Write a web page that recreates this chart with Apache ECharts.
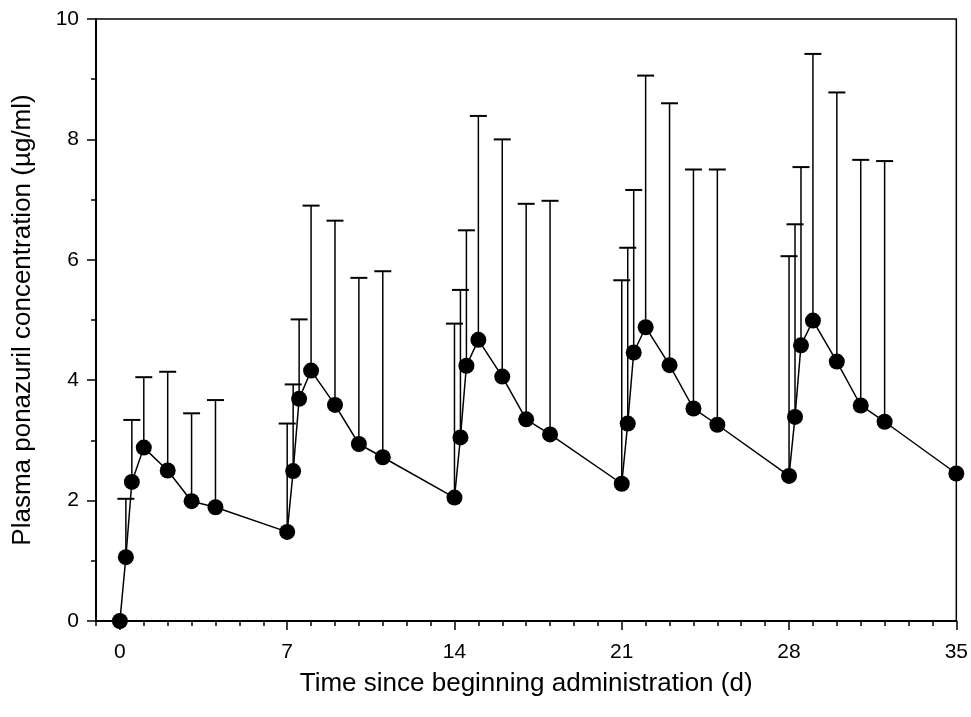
<!DOCTYPE html>
<html>
<head>
<meta charset="utf-8">
<script src="https://cdn.jsdelivr.net/npm/echarts@6.0.0/dist/echarts.min.js"></script>
<style>
  html, body { margin: 0; padding: 0; background: #fff; }
  #chart { width: 971px; height: 717px; }
</style>
</head>
<body>
<div id="chart"></div>
<script>
  // sampling times (days) and mean plasma concentrations (µg/ml)
  const times = [
    0, 0.25, 0.5, 1, 2, 3, 4,
    7, 7.25, 7.5, 8, 9, 10, 11,
    14, 14.25, 14.5, 15, 16, 17, 18,
    21, 21.25, 21.5, 22, 23, 24, 25,
    28, 28.25, 28.5, 29, 30, 31, 32,
    35
  ];
  const means = [
    0, 1.06, 2.31, 2.88, 2.50, 1.99, 1.89,
    1.48, 2.49, 3.69, 4.16, 3.59, 2.94, 2.72,
    2.05, 3.05, 4.24, 4.67, 4.06, 3.35, 3.10,
    2.28, 3.28, 4.46, 4.88, 4.25, 3.53, 3.26,
    2.41, 3.39, 4.58, 4.99, 4.31, 3.58, 3.31,
    2.45
  ];
  // top of the error bar (mean + SD), null where no bar is drawn
  const upper = [
    null, 2.03, 3.34, 4.05, 4.14, 3.45, 3.67,
    3.28, 3.93, 5.01, 6.90, 6.65, 5.70, 5.81,
    4.94, 5.50, 6.49, 8.39, 8.00, 6.93, 6.98,
    5.66, 6.20, 7.16, 9.06, 8.60, 7.50, 7.50,
    6.06, 6.59, 7.54, 9.42, 8.78, 7.66, 7.64,
    null
  ];
  const xTicks = [0, 7, 14, 21, 28, 35];

  const chartEl = document.getElementById('chart');
  const chart = echarts.init(chartEl, null, { renderer: 'canvas' });

  const fontFamily = '"Liberation Sans", Arial, sans-serif';
  const lineData = times.map((t, i) => [t, means[i]]);
  const errData = times
    .map((t, i) => [t, means[i], upper[i]])
    .filter(d => d[2] != null);

  const renderErrorBar = (params, api) => {
    const x = api.value(0);
    const top = api.coord([x, api.value(2)]);
    const bottom = api.coord([x, api.value(1)]);
    const half = 8.5;
    const style = { stroke: '#000', lineWidth: 1.5 };
    return {
      type: 'group',
      children: [
        { type: 'line', shape: { x1: top[0], y1: top[1], x2: bottom[0], y2: bottom[1] }, style },
        { type: 'line', shape: { x1: top[0] - half, y1: top[1], x2: top[0] + half, y2: top[1] }, style: { stroke: '#000', lineWidth: 2 } }
      ]
    };
  };

  const option = {
    animation: false,
    backgroundColor: '#fff',
    textStyle: { fontFamily },
    grid: {
      left: 96,
      right: 14,
      top: 19,
      bottom: 96,
      show: true,
      borderColor: '#000',
      borderWidth: 1.5
    },
    xAxis: [
      {
        type: 'value',
        min: -1,
        max: 35,
        interval: 1,
        name: 'Time since beginning administration (d)',
        nameLocation: 'middle',
        nameGap: 50,
        nameTextStyle: { color: '#000', fontSize: 26, fontFamily },
        axisLine: { show: true, onZero: false, lineStyle: { color: '#000', width: 2 } },
        axisTick: { show: true, customValues: xTicks, length: 9, lineStyle: { color: '#000', width: 1.5 } },
        axisLabel: { customValues: xTicks, color: '#000', fontSize: 21, margin: 21, fontFamily },
        splitLine: { show: false }
      },
      {
        type: 'value',
        min: -1,
        max: 35,
        interval: 1,
        position: 'bottom',
        axisLine: { show: false, onZero: false },
        axisTick: { show: true, length: 5, lineStyle: { color: '#000', width: 1.5 } },
        axisLabel: { show: false },
        splitLine: { show: false }
      }
    ],
    yAxis: {
      type: 'value',
      min: 0,
      max: 10,
      interval: 2,
      name: 'Plasma ponazuril concentration (µg/ml)',
      nameLocation: 'middle',
      nameGap: 60,
      nameTextStyle: { color: '#000', fontSize: 26, fontFamily },
      axisLine: { show: true, onZero: false, lineStyle: { color: '#000', width: 2 } },
      axisTick: { show: true, length: 9, lineStyle: { color: '#000', width: 1.5 } },
      minorTick: { show: true, splitNumber: 2, length: 5, lineStyle: { color: '#000', width: 1.5 } },
      axisLabel: { color: '#000', fontSize: 21, margin: 17, fontFamily },
      splitLine: { show: false }
    },
    series: [
      {
        name: 'SD',
        type: 'custom',
        renderItem: renderErrorBar,
        data: errData,
        encode: { x: 0, y: [1, 2] },
        z: 2
      },
      {
        name: 'Ponazuril',
        type: 'line',
        data: lineData,
        symbol: 'circle',
        symbolSize: 16,
        lineStyle: { color: '#000', width: 1.5 },
        itemStyle: { color: '#000' },
        z: 3
      }
    ]
  };

  chart.setOption(option);
</script>
</body>
</html>
